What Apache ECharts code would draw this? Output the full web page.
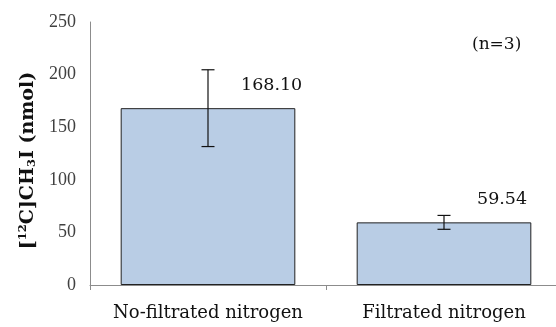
<!DOCTYPE html>
<html><head><meta charset="utf-8">
<script src="https://cdn.jsdelivr.net/npm/echarts@6/dist/echarts.min.js"></script>
<style>html,body{margin:0;padding:0;background:#fff;overflow:hidden}#c{width:562px;height:327px}</style>
</head><body><div id="c"></div>
<script>
var categories = ['No-filtrated nitrogen', 'Filtrated nitrogen'];
var values = [168.10, 59.54];
var errors = [36.5, 6.6];
var yTicks = [0, 50, 100, 150, 200, 250];

var serif = '"DejaVu Serif", "Liberation Serif", serif';
var serif2 = '"Liberation Serif", "DejaVu Serif", serif';
var chart = echarts.init(document.getElementById('c'));
chart.setOption({
  animation: false,
  grid: {left: 90, top: 22, right: 0, bottom: 42, containLabel: false},
  xAxis: {
    type: 'category', data: categories,
    axisLine: {lineStyle: {color: '#8c8c8c'}},
    axisTick: {show: true, interval: 0, alignWithLabel: false, length: 5, lineStyle: {color: '#8c8c8c'}},
    axisLabel: {interval: 0, hideOverlap: false, color: '#111', fontFamily: serif, fontSize: 18, margin: 19}
  },
  yAxis: {
    type: 'value', min: yTicks[0], max: yTicks[yTicks.length - 1], interval: 50,
    splitLine: {show: false},
    axisLine: {show: true, lineStyle: {color: '#8c8c8c'}},
    axisTick: {show: false},
    axisLabel: {color: '#404040', fontFamily: serif2, fontSize: 18, margin: 14},
    name: '{b|[}{sup|12}{b|C]CH}{sub|3}{b|I (nmol)}',
    nameLocation: 'middle', nameRotate: 90, nameGap: 51,
    nameTextStyle: {
      padding: [0, 14, 0, 0],
      rich: {
        b: {fontFamily: serif, fontWeight: 'bold', fontSize: 19, color: '#111'},
        sup: {fontFamily: serif, fontWeight: 'bold', fontSize: 11.5, color: '#111', verticalAlign: 'top', padding: [0,0,8,0]},
        sub: {fontFamily: serif, fontWeight: 'bold', fontSize: 11.5, color: '#111', padding: [9,0,0,0]}
      }
    }
  },
  series: [{
    type: 'bar', data: values, barWidth: '74%',
    itemStyle: {color: '#b9cde5', borderColor: '#222', borderWidth: 1},
    label: {show: true, position: 'top', align: 'left', offset: [33, -9],
      formatter: function(p){return p.value.toFixed(2);},
      fontFamily: serif, fontSize: 17.5, color: '#111'}
  }, {
    type: 'custom',
    data: values.map(function(v, i){return [i, v - errors[i], v + errors[i]];}),
    renderItem: function(params, api){
      var lo = api.coord([api.value(0), api.value(1)]);
      var hi = api.coord([api.value(0), api.value(2)]);
      var w = 6.5;
      var st = {stroke: '#111', lineWidth: 1.2};
      return {type: 'group', children: [
        {type: 'line', shape: {x1: hi[0], y1: hi[1], x2: lo[0], y2: lo[1]}, style: st},
        {type: 'line', shape: {x1: hi[0]-w, y1: hi[1], x2: hi[0]+w, y2: hi[1]}, style: st},
        {type: 'line', shape: {x1: lo[0]-w, y1: lo[1], x2: lo[0]+w, y2: lo[1]}, style: st}
      ]};
    },
    z: 10
  }],
  graphic: [{type: 'text', left: 472, top: 36,
    style: {text: '(n=3)', fontFamily: serif, fontSize: 17, fill: '#111'}}]
});
</script></body></html>
